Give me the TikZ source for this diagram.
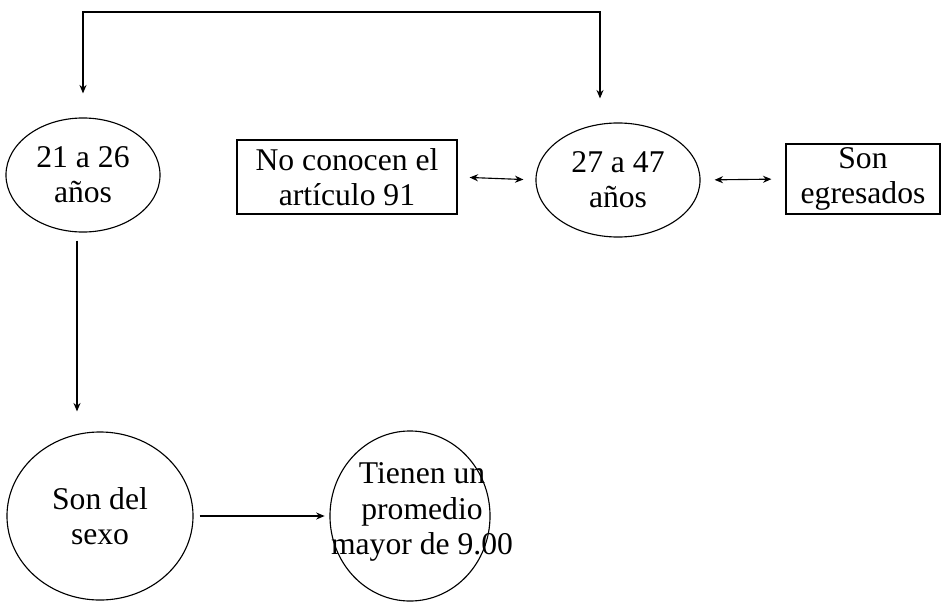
\documentclass[tikz,border=0pt]{standalone}
\usepackage{fontspec}
\setmainfont{Liberation Serif}
\usetikzlibrary{shapes.geometric, arrows.meta}

\begin{document}
\begin{tikzpicture}[
        x=0.025cm, y=-0.025cm,
        every node/.style={font=\fontsize{22.5}{25}\selectfont, align=center},
        elipse/.style={ellipse, draw=black, line width=0.8pt, inner sep=0pt},
        caja/.style={rectangle, draw=black, line width=0.8pt, inner sep=2pt},
        flecha/.style={-{Stealth[length=6pt, width=5pt]}, line width=0.8pt},
        doble/.style={{Stealth[length=6pt, width=5pt]}-{Stealth[length=6pt, width=5pt]}, line width=0.8pt},
    ]
        \useasboundingbox (0,0) rectangle (946,611);

        \node[elipse, minimum width=3.85cm, minimum height=2.85cm] (edad1) at (83,175) {21 a 26\\años};
        \node[caja, minimum width=5.5cm, minimum height=1.85cm] (articulo) at (347,177) {No conocen el\\artículo 91};
        \node[elipse, minimum width=4.1cm, minimum height=2.85cm] (edad2) at (618,180) {27 a 47\\años};
        \node[caja, minimum width=3.85cm, minimum height=1.75cm] (egresados) at (863,179) {Son\\egresados};

        \node[elipse, minimum width=4.65cm, minimum height=4.2cm] (sexo) at (100,516) {Son del\\sexo};
        \node[elipse, minimum width=4cm, minimum height=4.25cm] (promedio) at (410,516) {};
        \node (promedio-txt) at ([xshift=0.3cm, yshift=0.1cm]promedio) {Tienen un\\promedio\\mayor de 9.00};

        % conexiones
        \coordinate (arriba) at (300,12);
        \draw[doble, shorten <=0.6cm, shorten >=0.6cm] (edad1.north) |- (arriba) -| ([xshift=-0.45cm]edad2.north);
        \draw[flecha, shorten <=0.2cm, shorten >=0.5cm] ([xshift=-0.15cm]edad1.south) -- ([xshift=-0.15cm]edad1.south |- sexo.north);
        \draw[flecha, shorten <=0.15cm, shorten >=0.12cm] (sexo.east) -- (promedio.west);

        \draw[doble, shorten <=0.3cm, shorten >=0.3cm] (articulo.east) -- (edad2.west);
        \draw[doble, shorten <=0.35cm, shorten >=0.35cm] (edad2.east) -- (egresados.west);
    \end{tikzpicture}
\end{document}
